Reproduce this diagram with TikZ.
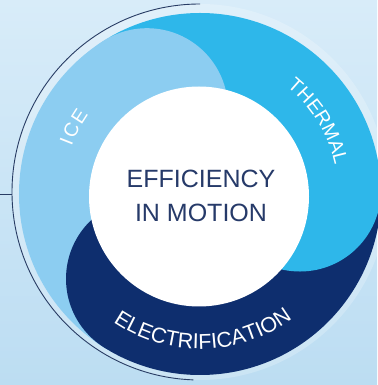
\documentclass[tikz,border=0pt]{standalone}
\usepackage{fontspec}
\setmainfont{Liberation Sans}
\usetikzlibrary{decorations.text}

\definecolor{bgtop}{RGB}{216,236,249}
\definecolor{bgbot}{RGB}{188,221,242}
\definecolor{iceblue}{RGB}{140,205,241}
\definecolor{thermalblue}{RGB}{46,183,234}
\definecolor{navyblade}{RGB}{14,46,110}
\definecolor{titlenavy}{RGB}{38,58,105}
\definecolor{rimline}{RGB}{40,60,100}

\newcommand\bladefont{\fontsize{19.5pt}{19.5pt}\selectfont}
\newcommand\elecfont{\fontsize{21.5pt}{21.5pt}\selectfont}

\tikzset{
  bladelabel/.style={decorate, decoration={text along path, text align=fit to path, text color=white, text={#1}}},
  arclabel/.style={decorate, decoration={text along path, text align=center, text color=white, text={#1}}},
  titletext/.style={text=titlenavy, font=\fontsize{25pt}{25pt}\selectfont, inner sep=0pt, anchor=base},
  rim/.style={draw=rimline, line width=0.9pt}
}

\begin{document}
\begin{tikzpicture}[x=1pt,y=1pt]
  \useasboundingbox (0,0) rectangle (377,385);
  % soft blue backdrop
  \shade[top color=bgtop, bottom color=bgbot] (0,0) rectangle (377,385);

  \coordinate (O) at (200,191);
  \coordinate (rimC) at (200,193);
  \coordinate (tickA) at (0,191);
  \coordinate (tickB) at (12,191);

  % pale halo and the thin rim arc with its tick
  \fill[white, opacity=0.22] (rimC) circle (188);
  \draw[rim] (rimC) ++(90:188) arc[start angle=90, end angle=268, radius=188];
  \draw[rim] (tickA) -- (tickB);

  % three blades: sector bodies, then rounded heads on top
  \begin{scope}
    \clip (O) circle (181);
    \fill[thermalblue] (O) -- ++(0:200) arc[start angle=0, end angle=120, radius=200] -- cycle;
    \fill[iceblue] (O) -- ++(120:200) arc[start angle=120, end angle=240, radius=200] -- cycle;
    \fill[navyblade] (O) -- ++(240:200) arc[start angle=240, end angle=360, radius=200] -- cycle;
    \fill[iceblue] (O) ++(122:100) circle (81);
    \fill[thermalblue] (O) ++(2:100) circle (81);
    \fill[navyblade] (O) ++(238:100) circle (81);
  \end{scope}

  % white hub
  \fill[white] (199,188.5) circle (110);

  % blade labels
  \path[bladelabel={|\bladefont|ICE}] (O) ++(159.5:137) arc[start angle=159.5, end angle=144.5, radius=137];
  \path[bladelabel={|\bladefont|THERMAL}] (O) ++(51:138) arc[start angle=51, end angle=12, radius=138];
  \path[arclabel={|\elecfont|ELECTRIFICATION}] (O) ++(226.25:155) arc[start angle=226.25, end angle=316.25, radius=155];

  % hub title
  \node[titletext] (title1) at (201,197) {EFFICIENCY};
  \node[titletext] (title2) at (201,163) {IN MOTION};
\end{tikzpicture}
\end{document}
